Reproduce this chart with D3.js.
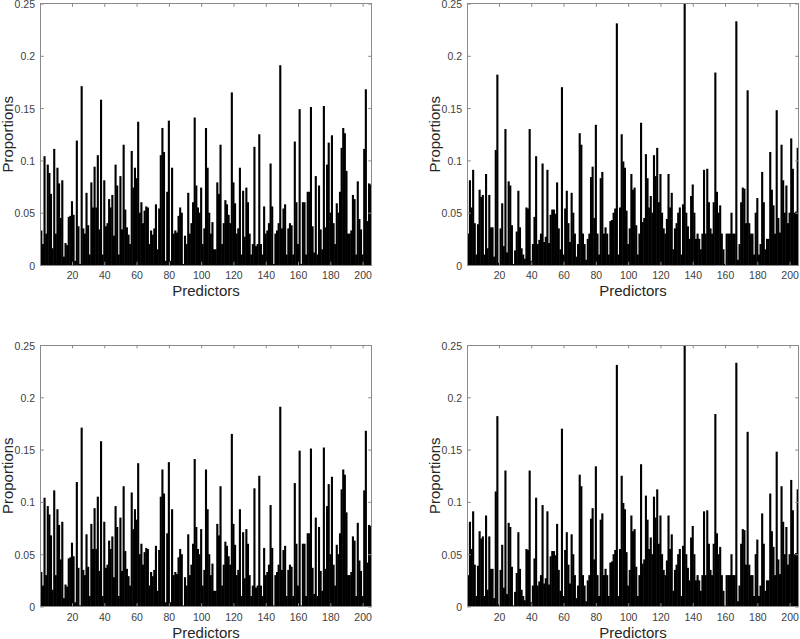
<!DOCTYPE html>
<html>
<head>
<meta charset="utf-8">
<script src="https://cdn.jsdelivr.net/npm/d3@7"></script>
<style>
  html, body { margin: 0; padding: 0; background: #fff; }
  svg { display: block; }
  text { font-family: "Liberation Sans", Arial, Helvetica, sans-serif; }
</style>
</head>
<body>
<svg id="chart" width="800" height="639"></svg>
<script>
// ---- data ----
const predictors = d3.range(1, 206);
const xTickValues = [20, 40, 60, 80, 100, 120, 140, 160, 180, 200];
const yTickValues = [0, 0.05, 0.1, 0.15, 0.2, 0.25];
const yTickLabels = ["0", "0.05", "0.1", "0.15", "0.2", "0.25"];
const xLabel = "Predictors";
const yLabel = "Proportions";

const proportionsA = [
  0.033,0.020,0.104,0.030,0.096,0.088,0.068,0.016,0.111,0.030,
  0.093,0.078,0.045,0.081,0.008,0.021,0.019,0.046,0.047,0.061,
  0.048,0.004,0.119,0.037,0.001,0.171,0.035,0.030,0.069,0.038,
  0.010,0.079,0.055,0.094,0.055,0.105,0.034,0.158,0.010,0.081,
  0.037,0.040,0.063,0.055,0.067,0.028,0.096,0.076,0.010,0.085,
  0.034,0.115,0.053,0.036,0.029,0.020,0.109,0.074,0.093,0.083,
  0.137,0.050,0.060,0.040,0.052,0.056,0.055,0.020,0.033,0.029,
  0.035,0.058,0.015,0.054,0.105,0.131,0.108,0.004,0.070,0.138,
  0.004,0.093,0.030,0.033,0.031,0.047,0.055,0.050,0.001,0.028,
  0.020,0.069,0.030,0.040,0.060,0.141,0.076,0.055,0.050,0.074,
  0.020,0.035,0.131,0.093,0.050,0.030,0.041,0.015,0.015,0.079,
  0.068,0.115,0.020,0.040,0.062,0.058,0.048,0.040,0.165,0.079,
  0.059,0.030,0.035,0.093,0.010,0.071,0.027,0.074,0.060,0.030,
  0.010,0.020,0.113,0.018,0.020,0.125,0.020,0.010,0.056,0.030,
  0.033,0.040,0.097,0.056,0.001,0.030,0.033,0.040,0.191,0.035,
  0.054,0.058,0.010,0.035,0.040,0.038,0.010,0.118,0.060,0.020,
  0.149,0.001,0.060,0.060,0.010,0.070,0.070,0.151,0.037,0.012,
  0.085,0.010,0.076,0.034,0.015,0.152,0.036,0.096,0.117,0.050,
  0.124,0.040,0.020,0.059,0.050,0.070,0.112,0.131,0.126,0.090,
  0.030,0.030,0.033,0.067,0.063,0.010,0.080,0.044,0.034,0.010,
  0.111,0.168,0.042,0.078,0.077
];

const proportionsB = [
  0.030,0.081,0.055,0.091,0.040,0.010,0.039,0.072,0.065,0.067,
  0.010,0.087,0.016,0.067,0.036,0.036,0.008,0.110,0.182,0.002,
  0.035,0.059,0.018,0.130,0.012,0.080,0.076,0.038,0.001,0.014,
  0.032,0.071,0.036,0.016,0.010,0.006,0.055,0.054,0.130,0.004,
  0.020,0.046,0.104,0.020,0.024,0.030,0.097,0.022,0.027,0.091,
  0.021,0.048,0.053,0.053,0.049,0.079,0.035,0.015,0.170,0.010,
  0.054,0.071,0.040,0.022,0.069,0.050,0.030,0.008,0.020,0.126,
  0.115,0.030,0.020,0.005,0.025,0.030,0.084,0.094,0.045,0.134,
  0.030,0.010,0.083,0.089,0.030,0.036,0.030,0.010,0.042,0.043,
  0.050,0.054,0.231,0.010,0.055,0.125,0.099,0.093,0.052,0.020,
  0.035,0.087,0.072,0.074,0.038,0.010,0.030,0.136,0.041,0.045,
  0.106,0.083,0.055,0.066,0.050,0.105,0.085,0.112,0.060,0.087,
  0.050,0.035,0.030,0.044,0.087,0.055,0.069,0.015,0.035,0.040,
  0.050,0.055,0.010,0.058,0.250,0.050,0.037,0.025,0.066,0.077,
  0.050,0.025,0.030,0.025,0.015,0.030,0.091,0.030,0.092,0.060,
  0.035,0.030,0.060,0.184,0.070,0.050,0.057,0.030,0.015,0.001,
  0.030,0.030,0.030,0.050,0.030,0.030,0.233,0.005,0.020,0.060,
  0.074,0.073,0.040,0.167,0.040,0.030,0.030,0.010,0.050,0.064,
  0.010,0.020,0.089,0.060,0.015,0.025,0.025,0.108,0.072,0.057,
  0.030,0.148,0.045,0.031,0.115,0.081,0.050,0.076,0.040,0.050,
  0.121,0.092,0.050,0.051,0.112
];

// ---- layout ----
const svg = d3.select("#chart");
const plotW = 331, plotH = 261.5;
const panels = [
  { values: proportionsA, left: 40.5, top: 3.5,  id: "p1" },
  { values: proportionsB, left: 467.5, top: 3.5, id: "p2" },
  { values: proportionsA, left: 40.5, top: 345,  id: "p3" },
  { values: proportionsB, left: 467.5, top: 345, id: "p4" }
];
const axisColor = "#8a8a8a";
const tickLen = 3.3;
const overlap = 0.25;

panels.forEach(p => {
  const x = d3.scaleLinear().domain([0.5, 205.5]).range([p.left, p.left + plotW]);
  const y = d3.scaleLinear().domain([0, 0.25]).range([p.top + plotH, p.top]);

  svg.append("clipPath").attr("id", "clip-" + p.id)
    .append("rect")
    .attr("x", p.left).attr("y", p.top)
    .attr("width", plotW).attr("height", plotH);

  const data = predictors.map((k, i) => ({ k, v: p.values[i] }));

  svg.append("g").attr("clip-path", `url(#clip-${p.id})`)
    .selectAll("rect").data(data).join("rect")
    .attr("x", d => x(d.k - 0.5) - overlap)
    .attr("width", d => x(d.k + 0.5) - x(d.k - 0.5) + 2 * overlap)
    .attr("y", d => y(d.v))
    .attr("height", d => y(0) - y(d.v))
    .attr("fill", "#000");

  const gb = svg.append("g")
    .attr("transform", `translate(0,${p.top + plotH})`)
    .call(d3.axisBottom(x).tickValues(xTickValues).tickSizeInner(-tickLen).tickSizeOuter(0).tickPadding(7));
  const gl = svg.append("g")
    .attr("transform", `translate(${p.left},0)`)
    .call(d3.axisLeft(y).tickValues(yTickValues).tickFormat((d, i) => yTickLabels[i])
      .tickSizeInner(-tickLen).tickSizeOuter(0).tickPadding(5.5));
  const gt = svg.append("g")
    .attr("transform", `translate(0,${p.top})`)
    .call(d3.axisTop(x).tickValues(xTickValues).tickSizeInner(-tickLen).tickSizeOuter(0).tickFormat(""));
  const gr = svg.append("g")
    .attr("transform", `translate(${p.left + plotW},0)`)
    .call(d3.axisRight(y).tickValues(yTickValues).tickSizeInner(-tickLen).tickSizeOuter(0).tickFormat(""));

  [gb, gl, gt, gr].forEach(g => {
    g.select(".domain").remove();
    g.selectAll("line").attr("stroke", axisColor);
    g.selectAll("text")
      .attr("fill", "#404040")
      .style("font-size", "10.5px")
      .style("font-family", '"Liberation Sans", Arial, Helvetica, sans-serif');
  });
  gl.selectAll("text").attr("dy", "0.38em");

  svg.append("rect")
    .attr("x", p.left).attr("y", p.top)
    .attr("width", plotW).attr("height", plotH)
    .attr("fill", "none")
    .attr("stroke", axisColor)
    .attr("stroke-width", 1)
    .attr("shape-rendering", "crispEdges");

  svg.append("text")
    .attr("x", p.left + plotW / 2)
    .attr("y", p.top + plotH + 31)
    .attr("text-anchor", "middle")
    .attr("fill", "#262626")
    .style("font-size", "15px")
    .text(xLabel);

  svg.append("text")
    .attr("transform", `translate(${p.left - 28},${p.top + plotH / 2}) rotate(-90)`)
    .attr("text-anchor", "middle")
    .attr("fill", "#262626")
    .style("font-size", "15px")
    .text(yLabel);
});
</script>
</body>
</html>
